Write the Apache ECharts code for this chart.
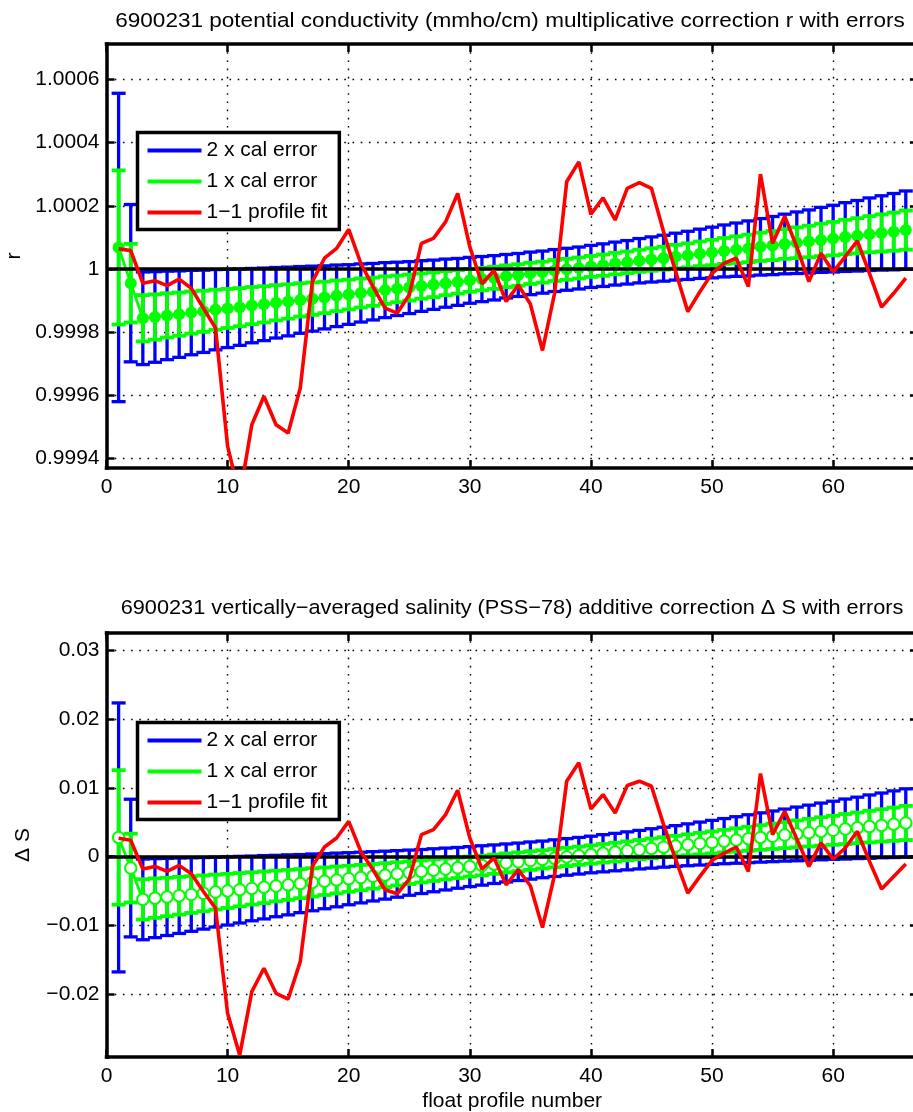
<!DOCTYPE html>
<html>
<head>
<meta charset="utf-8">
<title>6900231 conductivity and salinity corrections</title>
<script src="https://cdn.jsdelivr.net/npm/echarts@6/dist/echarts.min.js"></script>
<style>
  html, body { margin: 0; padding: 0; background: #fff; }
  #chart { width: 913px; height: 1112px; }
</style>
</head>
<body>
<div id="chart"></div>
<script>
// Float 6900231: profile numbers
const profiles = [1,2,3,4,5,6,7,8,9,10,11,12,13,14,15,16,17,18,19,20,21,22,23,24,25,26,27,28,29,30,
  31,32,33,34,35,36,37,38,39,40,41,42,43,44,45,46,47,48,49,50,51,52,53,54,55,56,57,58,59,60,
  61,62,63,64,65,66];

// Conductivity multiplicative correction r: one-to-one profile fit
const rFit = [1.000064, 1.000058, 0.999955, 0.999963, 0.999947, 0.999968, 0.999939, 0.999876, 0.999813, 0.999439,
  0.999280, 0.999507, 0.999597, 0.999507, 0.999481, 0.999623, 0.999960, 1.000034, 1.000065, 1.000125,
  1.000018, 0.999944, 0.999876, 0.999860, 0.999918, 1.000081, 1.000097, 1.000149, 1.000239, 1.000070,
  0.999953, 0.999995, 0.999897, 0.999949, 0.999889, 0.999742, 0.999923, 1.000276, 1.000339, 1.000173,
  1.000225, 1.000155, 1.000255, 1.000273, 1.000255, 1.000118, 0.999991, 0.999865, 0.999928, 0.999986,
  1.000018, 1.000034, 0.999944, 1.000300, 1.000081, 1.000167, 1.000070, 0.999960, 1.000050, 0.999991,
  1.000039, 1.000089, 0.999986, 0.999879, 0.999923, 0.999971];

// Calibrated r and its 1 x cal error
const rCorr = [1.000068, 0.999955, 0.999844, 0.999848, 0.999853, 0.999857, 0.999862, 0.999866, 0.999871, 0.999875,
  0.999879, 0.999884, 0.999888, 0.999893, 0.999897, 0.999902, 0.999906, 0.999910, 0.999915, 0.999919,
  0.999924, 0.999928, 0.999933, 0.999937, 0.999941, 0.999946, 0.999950, 0.999955, 0.999959, 0.999964,
  0.999968, 0.999972, 0.999977, 0.999981, 0.999986, 0.999990, 0.999995, 0.999999, 1.000003, 1.000008,
  1.000012, 1.000017, 1.000021, 1.000026, 1.000030, 1.000034, 1.000039, 1.000043, 1.000048, 1.000052,
  1.000057, 1.000061, 1.000065, 1.000070, 1.000074, 1.000079, 1.000083, 1.000087, 1.000092, 1.000096,
  1.000101, 1.000105, 1.000110, 1.000114, 1.000118, 1.000123];

const rErr = [0.0002440, 0.0001245, 0.0000733, 0.0000717, 0.0000700, 0.0000684, 0.0000668, 0.0000651, 0.0000635, 0.0000619,
  0.0000604, 0.0000588, 0.0000574, 0.0000558, 0.0000544, 0.0000528, 0.0000514, 0.0000499, 0.0000487, 0.0000472,
  0.0000460, 0.0000447, 0.0000435, 0.0000422, 0.0000411, 0.0000401, 0.0000390, 0.0000381, 0.0000371, 0.0000363,
  0.0000357, 0.0000351, 0.0000344, 0.0000340, 0.0000337, 0.0000333, 0.0000332, 0.0000332, 0.0000332, 0.0000333,
  0.0000337, 0.0000340, 0.0000344, 0.0000351, 0.0000357, 0.0000363, 0.0000371, 0.0000381, 0.0000390, 0.0000401,
  0.0000411, 0.0000422, 0.0000435, 0.0000447, 0.0000460, 0.0000472, 0.0000487, 0.0000499, 0.0000514, 0.0000528,
  0.0000544, 0.0000558, 0.0000574, 0.0000588, 0.0000604, 0.0000619];

// Vertically-averaged salinity additive correction ΔS: one-to-one profile fit
const dsFit = [0.00267, 0.00238, -0.00179, -0.00141, -0.00214, -0.00126, -0.00248, -0.00505, -0.00747, -0.02276,
  -0.02883, -0.01961, -0.01621, -0.01985, -0.02068, -0.01524, -0.00141, 0.00141, 0.00272, 0.00514,
  0.00077, -0.00189, -0.00480, -0.00539, -0.00325, 0.00320, 0.00393, 0.00611, 0.00965, 0.00272,
  -0.00179, -0.00019, -0.00408, -0.00189, -0.00422, -0.01029, -0.00262, 0.01097, 0.01364, 0.00694,
  0.00903, 0.00636, 0.01034, 0.01097, 0.01024, 0.00466, -0.00044, -0.00529, -0.00286, -0.00053,
  0.00053, 0.00141, -0.00214, 0.01208, 0.00320, 0.00660, 0.00257, -0.00141, 0.00200, -0.00034,
  0.00126, 0.00369, -0.00068, -0.00470, -0.00286, -0.00107];

// Calibrated ΔS and its 1 x cal error
const dsCorr = [0.00280, -0.00165, -0.00620, -0.00602, -0.00585, -0.00567, -0.00550, -0.00532, -0.00514, -0.00497,
  -0.00479, -0.00461, -0.00444, -0.00426, -0.00409, -0.00391, -0.00373, -0.00356, -0.00338, -0.00320,
  -0.00303, -0.00285, -0.00268, -0.00250, -0.00232, -0.00215, -0.00197, -0.00179, -0.00162, -0.00144,
  -0.00127, -0.00109, -0.00091, -0.00074, -0.00056, -0.00039, -0.00021, -0.00003, 0.00014, 0.00032,
  0.00050, 0.00067, 0.00085, 0.00102, 0.00120, 0.00138, 0.00155, 0.00173, 0.00191, 0.00208,
  0.00226, 0.00243, 0.00261, 0.00279, 0.00296, 0.00314, 0.00331, 0.00349, 0.00367, 0.00384,
  0.00402, 0.00419, 0.00437, 0.00455, 0.00472, 0.00490];

const dsErr = [0.00977, 0.00500, 0.00293, 0.00287, 0.00280, 0.00274, 0.00267, 0.00260, 0.00254, 0.00248,
  0.00242, 0.00235, 0.00230, 0.00223, 0.00218, 0.00211, 0.00206, 0.00200, 0.00195, 0.00189,
  0.00184, 0.00179, 0.00174, 0.00169, 0.00164, 0.00160, 0.00156, 0.00152, 0.00148, 0.00145,
  0.00143, 0.00140, 0.00138, 0.00136, 0.00135, 0.00133, 0.00133, 0.00133, 0.00133, 0.00133,
  0.00135, 0.00136, 0.00138, 0.00140, 0.00143, 0.00145, 0.00148, 0.00152, 0.00156, 0.00160,
  0.00164, 0.00169, 0.00174, 0.00179, 0.00184, 0.00189, 0.00195, 0.00200, 0.00206, 0.00211,
  0.00218, 0.00223, 0.00230, 0.00235, 0.00242, 0.00248];

// Reference levels (no correction)
const rRef = 1;
const dsRef = 0;

// Axis domains and tick values
const profileRange = [0, 67];
const profileTicks = [0, 10, 20, 30, 40, 50, 60];
const rRange = [0.99937, 1.000712];
const rTicks = [0.9994, 0.9996, 0.9998, 1, 1.0002, 1.0004, 1.0006];
const dsRange = [-0.0291, 0.0325];
const dsTicks = [-0.02, -0.01, 0, 0.01, 0.02, 0.03];

// Text
const titleR = '6900231 potential conductivity (mmho/cm) multiplicative correction r with errors';
const titleS = '6900231 vertically\u2212averaged salinity (PSS\u221278) additive correction \u0394 S with errors';
const nameErr2 = '2 x cal error';
const nameErr1 = '1 x cal error';
const nameFit = '1\u22121 profile fit';
const labelR = 'r';
const labelS = '\u0394 S';
const labelX = 'float profile number';

const FONT = '"Liberation Sans", Arial, Helvetica, sans-serif';
const BLUE = '#0000ff', GREEN = '#00ff00', RED = '#ff0000', BLACK = '#000000';

const chart = echarts.init(document.getElementById('chart'), null, { renderer: 'canvas' });

const gridBoxes = [
  { left: 106.5, top: 44, width: 811.4, height: 424 },
  { left: 106.5, top: 633, width: 811.4, height: 424 }
];

const boxLine = { show: true, onZero: false, lineStyle: { color: BLACK, width: 3.5, cap: 'square' } };
const tickStyle = { color: BLACK, width: 2.5 };
const dotted = { color: BLACK, width: 1.4, type: [1.6, 6.6] };

function xAxesFor(gi, withName) {
  return [
    {
      type: 'value', gridIndex: gi, position: 'bottom',
      min: profileRange[0], max: profileRange[1],
      axisLine: boxLine,
      axisTick: { show: true, inside: true, length: 8, lineStyle: tickStyle, customValues: profileTicks },
      axisLabel: { customValues: profileTicks, color: BLACK, fontSize: 21, fontFamily: FONT, margin: 9 },
      splitLine: { show: true, lineStyle: dotted },
      name: withName ? labelX : '',
      nameLocation: 'middle', nameGap: 34,
      nameTextStyle: { color: BLACK, fontSize: 21, fontFamily: FONT }
    },
    {
      type: 'value', gridIndex: gi, position: 'top',
      min: profileRange[0], max: profileRange[1],
      axisLine: boxLine,
      axisTick: { show: true, inside: true, length: 8, lineStyle: tickStyle, customValues: profileTicks },
      axisLabel: { show: false },
      splitLine: { show: false }
    }
  ];
}

function yAxesFor(gi, range, ticks, fmt, name, gap) {
  return [
    {
      type: 'value', gridIndex: gi, position: 'left',
      min: range[0], max: range[1],
      axisLine: boxLine,
      axisTick: { show: true, inside: true, length: 8, lineStyle: tickStyle, customValues: ticks },
      axisLabel: { customValues: ticks, formatter: fmt, color: BLACK, fontSize: 21, fontFamily: FONT, margin: 7 },
      splitLine: { show: true, lineStyle: dotted },
      name: name, nameLocation: 'middle', nameGap: gap,
      nameTextStyle: { color: BLACK, fontSize: 21, fontFamily: FONT }
    },
    {
      type: 'value', gridIndex: gi, position: 'right',
      min: range[0], max: range[1],
      axisLine: boxLine,
      axisTick: { show: true, inside: true, length: 8, lineStyle: tickStyle, customValues: ticks },
      axisLabel: { show: false },
      splitLine: { show: false }
    }
  ];
}

const fmtR = v => (Math.abs(v - 1) < 1e-9 ? '1' : v.toFixed(4));
const fmtS = v => (Math.abs(v) < 1e-9 ? '0' : (v < 0 ? '\u2212' : '') + Math.abs(v).toFixed(2));

// Vertical error bar with horizontal caps, k times the cal error
function errorBarRenderer(k, color, width) {
  return function (params, api) {
    const x = api.value(0);
    const m = api.value(1);
    const e = api.value(2) * k;
    const hi = api.coord([x, m + e]);
    const lo = api.coord([x, m - e]);
    const hw = 7;
    const st = { stroke: color, lineWidth: width, fill: null };
    return {
      type: 'group',
      children: [
        { type: 'line', shape: { x1: hi[0], y1: hi[1], x2: lo[0], y2: lo[1] }, style: st },
        { type: 'line', shape: { x1: hi[0] - hw, y1: hi[1], x2: hi[0] + hw, y2: hi[1] }, style: st },
        { type: 'line', shape: { x1: lo[0] - hw, y1: lo[1], x2: lo[0] + hw, y2: lo[1] }, style: st }
      ]
    };
  };
}

function panelSeries(ai, corr, err, fit, ref, hollow) {
  const errData = profiles.map((p, i) => [p, corr[i], err[i]]);
  const axes = { xAxisIndex: ai * 2, yAxisIndex: ai * 2 };
  return [
    Object.assign({
      type: 'custom', name: nameErr2, z: 2,
      renderItem: errorBarRenderer(2, BLUE, 3.3),
      itemStyle: { color: BLUE },
      encode: { x: 0, y: 1 },
      data: errData
    }, axes),
    Object.assign({
      type: 'custom', name: nameErr1, z: 3,
      renderItem: errorBarRenderer(1, GREEN, 3.8),
      itemStyle: { color: GREEN },
      encode: { x: 0, y: 1 },
      data: errData
    }, axes),
    Object.assign({
      type: 'line', name: 'calibrated', z: 4,
      data: profiles.map((p, i) => [p, corr[i]]),
      symbol: hollow ? 'emptyCircle' : 'circle',
      symbolSize: hollow ? 11.5 : 12,
      showSymbol: true,
      lineStyle: { color: GREEN, width: 2.8 },
      itemStyle: hollow ? { color: GREEN, borderColor: GREEN, borderWidth: 3 } : { color: GREEN },
      markLine: {
        silent: true, symbol: 'none', z: 5, animation: false,
        label: { show: false },
        lineStyle: { color: BLACK, width: 3.5, type: 'solid' },
        data: [{ yAxis: ref }]
      }
    }, axes),
    Object.assign({
      type: 'line', name: nameFit, z: 6,
      data: profiles.map((p, i) => [p, fit[i]]),
      symbol: 'none', clip: true,
      lineStyle: { color: RED, width: 3.6 },
      itemStyle: { color: RED }
    }, axes)
  ];
}

function legendAt(top) {
  return {
    orient: 'vertical', left: 137.5, top: top,
    padding: [7, 12, 6, 10], itemGap: 9,
    itemWidth: 54, itemHeight: 4, icon: 'rect',
    backgroundColor: '#ffffff', borderColor: BLACK, borderWidth: 3.5, borderRadius: 0,
    textStyle: { color: BLACK, fontSize: 21, fontFamily: FONT, lineHeight: 22 },
    itemStyle: { borderWidth: 0 },
    selectedMode: false, z: 10,
    data: [nameErr2, nameErr1, nameFit]
  };
}

function titleText(text, x, y, sx) {
  return {
    type: 'text', x: x, y: y, scaleX: sx, z: 20,
    style: { text: text, fill: BLACK, fontSize: 20.5, fontFamily: FONT, align: 'center', verticalAlign: 'middle' }
  };
}

chart.setOption({
  animation: false,
  backgroundColor: '#ffffff',
  grid: gridBoxes.map(g => Object.assign({ containLabel: false, outerBoundsMode: 'none' }, g)),
  xAxis: xAxesFor(0, false).concat(xAxesFor(1, true)),
  yAxis: yAxesFor(0, rRange, rTicks, fmtR, labelR, 81).concat(yAxesFor(1, dsRange, dsTicks, fmtS, labelS, 73)),
  legend: [legendAt(132.5), legendAt(722.5)],
  graphic: [titleText(titleR, 510, 21, 1.1), titleText(titleS, 512, 608, 1.06)],
  series: panelSeries(0, rCorr, rErr, rFit, rRef, false).concat(panelSeries(1, dsCorr, dsErr, dsFit, dsRef, true))
});
</script>
</body>
</html>
